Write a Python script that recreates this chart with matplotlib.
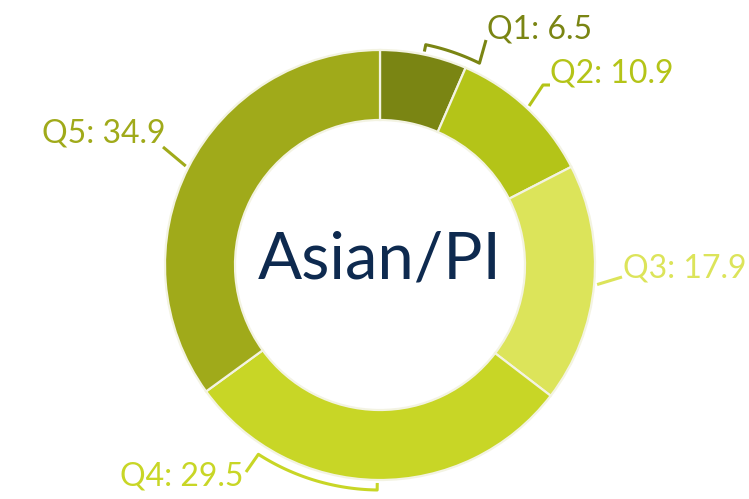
import numpy as np
import matplotlib
matplotlib.use("Agg")
import matplotlib.pyplot as plt

# data
labels = ["Q1", "Q2", "Q3", "Q4", "Q5"]
values = [6.5, 10.9, 17.9, 29.5, 34.9]
colors = ["#7a8513", "#b4c418", "#dce45a", "#c8d626", "#a0aa1a"]
center_title = "Asian/PI"

W, H = 749, 499
CX, CY, R = 380, 265, 215   # pixel layout of the donut


def px(x, y):
    # pixel (top-left origin) -> data (y up)
    return x, H - y


fig = plt.figure(figsize=(W / 100, H / 100), dpi=100)
ax = fig.add_axes([0, 0, 1, 1])

wedges, _ = ax.pie(values, colors=colors, startangle=90, counterclock=False,
                   center=px(CX, CY), radius=R,
                   wedgeprops=dict(width=70, edgecolor="#f3f3e2", linewidth=1.6))
# pie resets the limits, so set them afterwards
ax.set_xlim(0, W)
ax.set_ylim(0, H)
ax.set_aspect("equal")
ax.axis("off")

ax.text(*px(380, 260), center_title, ha="center", va="center",
        fontsize=47, color="#0e2a4f", family=["Lato", "DejaVu Sans"])

# label layout: text anchor (px), alignment, connector path after the start point
label_pos = {
    "Q1": dict(xy=(487, 29), ha="left", path=[(486, 40)], bracket=(0.0, -14.5)),
    "Q2": dict(xy=(550, 73), ha="left", path=[(543, 85), (550, 85)]),
    "Q3": dict(xy=(623, 268), ha="left", path=[(622, 277)]),
    "Q4": dict(xy=(243, 476), ha="right", path=[(246, 472)], bracket=(0.0, -32.0)),
    "Q5": dict(xy=(165, 133), ha="right", path=[(163, 147)]),
}

total = sum(values)
cum = np.cumsum([0] + values[:-1])
cx, cy = px(CX, CY)
for lab, val, c0, col in zip(labels, values, cum, colors):
    mid = 90 - (c0 + val / 2) / total * 360
    lay = label_pos[lab]
    pts = []
    if "bracket" in lay:
        a0, a1 = mid + lay["bracket"][0], mid + lay["bracket"][1]
        rb, ri = R + 10, R + 3
        th = np.radians(np.linspace(a0, a1, 40))
        pts.append((cx + ri * np.cos(th[0]), cy + ri * np.sin(th[0])))
        pts += [(cx + rb * np.cos(t), cy + rb * np.sin(t)) for t in th]
    else:
        t = np.radians(mid)
        pts.append((cx + (R + 3) * np.cos(t), cy + (R + 3) * np.sin(t)))
    pts += [px(*p) for p in lay["path"]]
    xs, ys = zip(*pts)
    ax.plot(xs, ys, color=col, lw=2.2, solid_capstyle="butt")
    ax.text(*px(*lay["xy"]), f"{lab}: {val}", ha=lay["ha"], va="center",
            fontsize=23, color=col, family=["Lato", "DejaVu Sans"])

fig.savefig("out.png", dpi=100)
